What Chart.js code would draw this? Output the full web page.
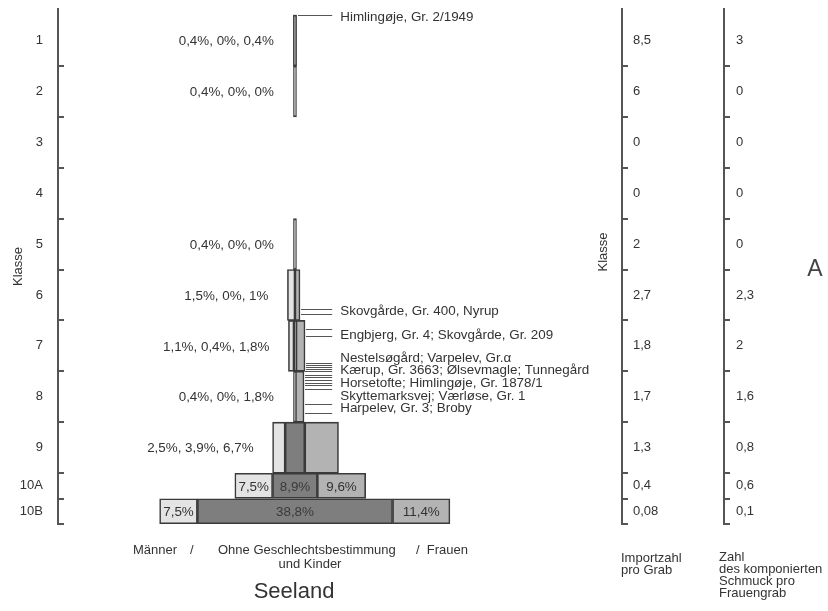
<!DOCTYPE html>
<html lang="de">
<head>
<meta charset="UTF-8">
<title>Seeland – Klassen</title>
<style>
  html, body { margin: 0; padding: 0; background: #fff; }
  .chart-box { width: 828px; height: 611px; position: relative; }
</style>
</head>
<body>
<div class="chart-box"><canvas id="seeland"></canvas></div>

<script src="https://cdn.jsdelivr.net/npm/chart.js"></script>
<script>
// Klassen und Anteile (% aller Gräber)
const klassen = ['1', '2', '3', '4', '5', '6', '7', '8', '9', '10A', '10B'];
const maenner = [0.4, 0.4, 0, 0, 0.4, 1.5, 1.1, 0.4, 2.5, 7.5, 7.5];
const ohneBestimmung = [0, 0, 0, 0, 0, 0, 0.4, 0, 3.9, 8.9, 38.8];
const frauen = [0.4, 0, 0, 0, 0, 1, 1.8, 1.8, 6.7, 9.6, 11.4];

// rechte Spalten
const importzahl = ['8,5', '6', '0', '0', '2', '2,7', '1,8', '1,7', '1,3', '0,4', '0,08'];
const schmuck = ['3', '0', '0', '0', '0', '2,3', '2', '1,6', '0,8', '0,6', '0,1'];

// Fundorte: Beschriftung, Lage auf der Klassenachse, Striche
const fundorte = [
    'Himlingøje, Gr. 2/1949',
    'Skovgårde, Gr. 400, Nyrup',
    'Engbjerg, Gr. 4; Skovgårde, Gr. 209',
    'Nestelsøgård; Varpelev, Gr.α',
    'Kærup, Gr. 3663; Ølsevmagle; Tunnegård',
    'Horsetofte; Himlingøje, Gr. 1878/1',
    'Skyttemarksvej; Værløse, Gr. 1',
    'Harpelev, Gr. 3; Broby'
];
const fundortLage = [0.02, 5.81, 6.27, 6.72, 6.97, 7.21, 7.47, 7.70];
const fundortStriche = [
    [0],
    [5.77, 5.87],
    [6.17, 6.31],
    [6.83, 6.88],
    [6.92, 6.95, 7.0],
    [7.07, 7.12, 7.18],
    [7.23, 7.27, 7.35],
    [7.64, 7.82]
];

// Zeilen: 10A und 10B sind halb so hoch
const rowHeight = klassen.map(k => k.startsWith('10') ? 0.5 : 1);
const rowTop = [];
let summe = 0;
rowHeight.forEach(h => { rowTop.push(summe); summe += h; });
const rowMid = rowTop.map((t, i) => t + rowHeight[i] / 2);
const grenzen = rowTop.slice(1).concat([summe]);

const farben = { m: '#e4e4e4', o: '#7e7e7e', f: '#b3b3b3' };
const werteVon = { m: maenner, o: ohneBestimmung, f: frauen };
const namen = { m: 'Männer', o: 'Ohne Geschlechtsbestimmung und Kinder', f: 'Frauen' };

function segmente(teil, halb) {
    const out = [];
    klassen.forEach((k, i) => {
        if ((rowHeight[i] < 1) !== halb) return;
        const v = werteVon[teil][i];
        if (!v) return;
        const h = ohneBestimmung[i] / 2;
        let r;
        if (teil === 'm') r = [-h - v, -h];
        else if (teil === 'o') r = [-h, h];
        else r = [h, h + v];
        out.push({ y: rowMid[i], x: r });
    });
    return out;
}

const datasets = [];
[false, true].forEach(halb => {
    ['m', 'o', 'f'].forEach(teil => {
        datasets.push({
            label: namen[teil],
            data: segmente(teil, halb),
            backgroundColor: farben[teil],
            borderColor: '#3a3a3a',
            borderWidth: 1.6,
            borderSkipped: false,
            barThickness: halb ? 25 : 51,
            minBarLength: 3,
            stack: 'klasse',
            yAxisID: 'y'
        });
    });
});

const fmt = v => String(v).replace('.', ',') + '%';

function klassenAchse(breite, padding, beschriftung, extra) {
    return Object.assign({
        type: 'linear',
        reverse: true,
        min: -0.12,
        max: 10,
        offset: false,
        afterBuildTicks: s => { s.ticks = rowMid.map(v => ({ value: v })); },
        afterFit: s => {
            s.width = breite;
            s.paddingTop = 0;
            s.paddingBottom = 0;
        },
        ticks: { autoSkip: false, padding: padding, color: '#333', font: { size: 13 },
                 callback: (v, i) => beschriftung[i] },
        grid: { display: false, drawTicks: false },
        border: { display: true, color: '#555', width: 2 }
    }, extra);
}

const deko = {
    id: 'deko',
    afterDraw(chart) {
        const { ctx, scales } = chart;
        const x = scales.x, y = scales.y;
        ctx.save();

        // Teilstriche an den Klassengrenzen
        ctx.strokeStyle = '#555';
        ctx.lineWidth = 2;
        [scales.y.right, scales.yImp.left, scales.ySch.left].forEach(ax => {
            grenzen.forEach(g => {
                const py = Math.round(y.getPixelForValue(g));
                ctx.beginPath();
                ctx.moveTo(ax, py);
                ctx.lineTo(ax + 6, py);
                ctx.stroke();
            });
        });

        ctx.font = '13.4px "Liberation Sans", Arial, sans-serif';
        ctx.fillStyle = '#333';
        ctx.textBaseline = 'middle';

        // Anteile links neben den Balken (Klassen 1-9), in 10A/10B im Balken
        klassen.forEach((k, i) => {
            const m = maenner[i], o = ohneBestimmung[i], f = frauen[i];
            if (!(m || o || f)) return;
            const py = y.getPixelForValue(rowMid[i]) + 1;
            if (rowHeight[i] === 1) {
                ctx.textAlign = 'right';
                const links = x.getPixelForValue(-o / 2 - m);
                ctx.fillText(fmt(m) + ', ' + fmt(o) + ', ' + fmt(f), links - 19, py);
            } else {
                ctx.textAlign = 'center';
                const teile = [[-o / 2 - m, -o / 2, m], [-o / 2, o / 2, o], [o / 2, o / 2 + f, f]];
                teile.forEach(([a, b, v], j) => {
                    if (!v) return;
                    ctx.fillStyle = j === 1 ? '#3a3a3a' : '#333';
                    ctx.fillText(fmt(v), (x.getPixelForValue(a) + x.getPixelForValue(b)) / 2, py);
                });
                ctx.fillStyle = '#333';
            }
        });

        // Fundorte mit Hinweisstrichen
        const rechtsVon = v => {
            let i = rowTop.findIndex((t, j) => v >= t && v < t + rowHeight[j]);
            if (i < 0) i = 0;
            return ohneBestimmung[i] / 2 + frauen[i];
        };
        ctx.strokeStyle = '#555';
        ctx.lineWidth = 1;
        fundorte.forEach((name, n) => {
            fundortStriche[n].forEach(v => {
                const py = Math.round(y.getPixelForValue(v)) + 0.5;
                ctx.beginPath();
                ctx.moveTo(x.getPixelForValue(rechtsVon(v)) + 1, py);
                ctx.lineTo(x.getPixelForValue(7.4), py);
                ctx.stroke();
            });
            ctx.textAlign = 'left';
            ctx.fillText(name, x.getPixelForValue(9), y.getPixelForValue(fundortLage[n]) + 1);
        });

        // Beschriftung unten
        ctx.font = '13px "Liberation Sans", Arial, sans-serif';
        ctx.textAlign = 'left';
        ctx.fillText('Männer', 133, 550);
        ctx.fillText('/', 190, 550);
        ctx.fillText('Ohne Geschlechtsbestimmung', 218, 550);
        ctx.fillText('/  Frauen', 416, 550);
        ctx.textAlign = 'center';
        ctx.fillText('und Kinder', 310, 564);
        ctx.font = '22px "Liberation Sans", Arial, sans-serif';
        ctx.fillText('Seeland', 294, 592);

        ctx.font = '13px "Liberation Sans", Arial, sans-serif';
        ctx.textAlign = 'left';
        ['Importzahl', 'pro Grab'].forEach((t, i) => ctx.fillText(t, 621, 558 + i * 12.3));
        ['Zahl', 'des komponierten', 'Schmuck pro', 'Frauengrab'].forEach((t, i) => ctx.fillText(t, 719, 557 + i * 12.3));

        // Klasse (rechts) und Kennbuchstabe
        ctx.save();
        ctx.translate(603, 252);
        ctx.rotate(-Math.PI / 2);
        ctx.textAlign = 'center';
        ctx.fillText('Klasse', 0, 0);
        ctx.restore();
        ctx.font = '23px "Liberation Sans", Arial, sans-serif';
        ctx.textAlign = 'center';
        ctx.fillStyle = '#444';
        ctx.fillText('A', 815, 270);

        ctx.restore();
    }
};

Chart.defaults.font.family = '"Liberation Sans", Arial, sans-serif';
Chart.defaults.font.size = 13;
Chart.defaults.color = '#333';

new Chart(document.getElementById('seeland'), {
    type: 'bar',
    data: { datasets },
    options: {
        indexAxis: 'y',
        responsive: true,
        maintainAspectRatio: false,
        animation: false,
        layout: { padding: { top: 9, bottom: 87, left: 0, right: 0 } },
        plugins: { legend: { display: false }, tooltip: { enabled: false }, title: { display: false } },
        scales: {
            x: { type: 'linear', display: false, min: -47.1, max: 65.0, stacked: false },
            y: klassenAchse(58, 15, klassen, {
                position: 'left',
                title: { display: true, text: 'Klasse', color: '#333', font: { size: 13 }, padding: { top: 11 } }
            }),
            yImp: klassenAchse(102, 11, importzahl, { position: 'right', weight: 1 }),
            ySch: klassenAchse(104, 12, schmuck, { position: 'right', weight: 2 })
        }
    },
    plugins: [deko]
});
</script>
</body>
</html>
